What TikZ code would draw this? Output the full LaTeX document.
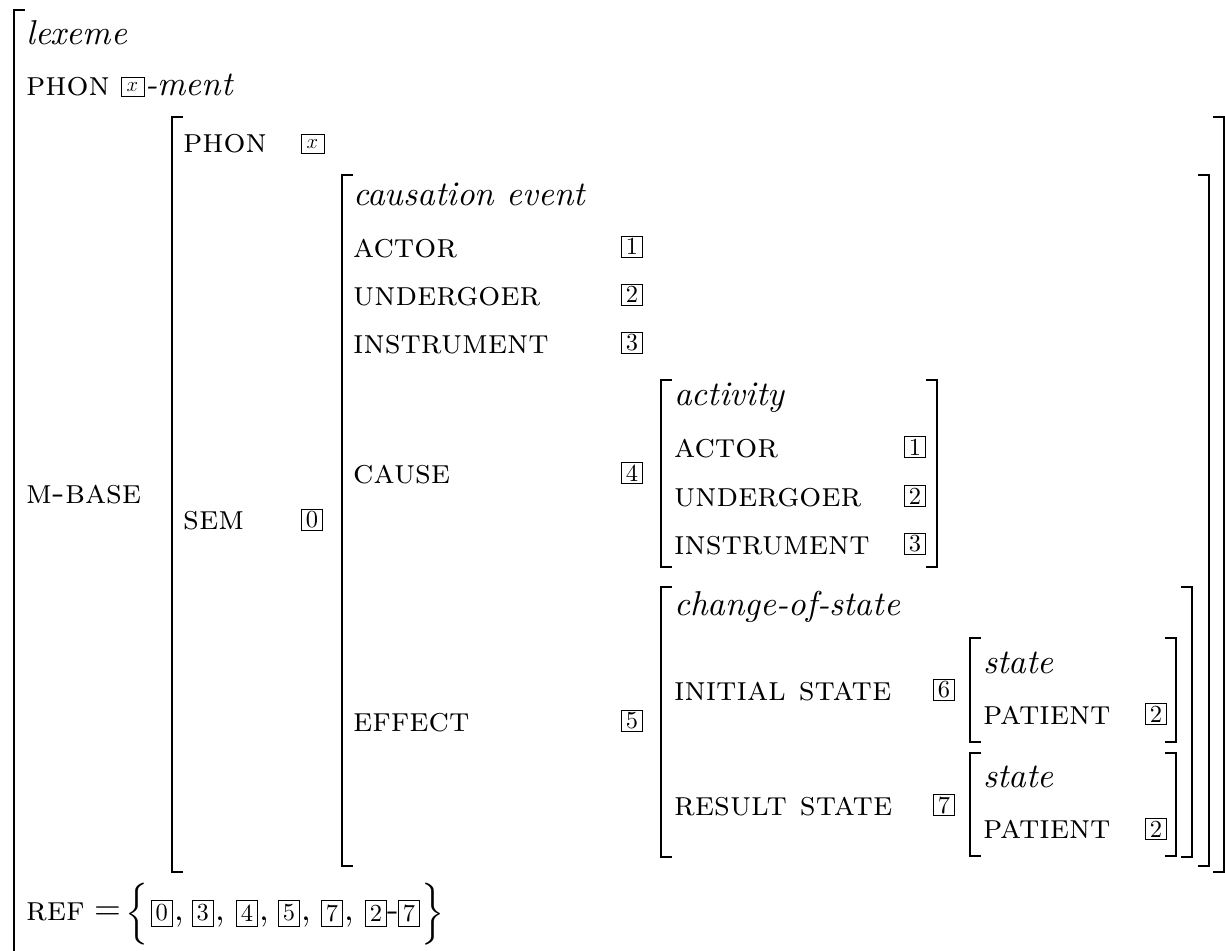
\documentclass[tikz,border=0pt]{standalone}
\usepackage{graphicx}
\font\rmL="[lmroman10-regular]:+tlig;" at 34.5pt
\font\scL="[lmromancaps10-regular]:+tlig;" at 34.5pt
\font\itL="[lmroman10-italic]:+tlig;" at 34.5pt
\font\tagF="[lmroman10-regular]:+tlig;" at 24.5pt
\tikzset{
  brk/.style={line width=2.6pt, line join=miter},
  lbl/.style={anchor=base west, inner sep=0pt, font=\scL},
  typ/.style={anchor=base west, inner sep=0pt, font=\itL},
  tag/.style={draw, line width=0.9pt, minimum width=20.5pt, minimum height=21pt, inner sep=0pt, font=\tagF},
  reftag/.style={tag, minimum height=26pt},
  xtag/.style={draw, line width=0.9pt, minimum width=23pt, minimum height=19pt, inner sep=0pt, font=\fontsize{20.74}{22}\selectfont},
  plain/.style={inner sep=0pt, font=\rmL},
}
\newcommand\LBr[3]{\draw[brk] (#1+11,#2) -- (#1,#2) -- (#1,#3) -- (#1+11,#3);}
\newcommand\RBr[3]{\draw[brk] (#1-11,#2) -- (#1,#2) -- (#1,#3) -- (#1-11,#3);}
\begin{document}
\begin{tikzpicture}[x=1pt,y=-1pt]
\useasboundingbox (0,0) rectangle (1225,950);
% brackets
\draw[brk] (25,10) -- (14,10) -- (14,960);
\LBr{172}{117}{872}
\RBr{1224}{117}{872}
\LBr{342}{175}{866}
\RBr{1209}{175}{866}
\LBr{661}{380}{567}
\RBr{937}{380}{567}
\LBr{661}{587}{857}
\RBr{1192}{587}{857}
\LBr{970}{638}{742}
\RBr{1176}{638}{742}
\LBr{970}{753}{856}
\RBr{1176}{753}{856}
% top level
\node[typ] (lexeme) at (26,45) {lexeme};
\node[lbl] (phon1) at (26,95) {phon};
\node[xtag] (xt1) at (132.5,87) {$x$};
\node[typ, anchor=base west] (ment) at (145,95) {-ment};
\node[lbl] (mbase) at (26,503) {m-base};
% m-base value
\node[lbl] (phon2) at (183,152) {phon};
\node[xtag] (xt2) at (312.5,144) {$x$};
\node[lbl] (sem) at (183,529) {sem};
\node[tag] (t0) at (312,519.5) {0};
% causation event
\node[typ] (caus) at (353,205) {causation event};
\node[lbl] (actor1) at (353,257) {actor};
\node[tag] (t1a) at (632,246.5) {1};
\node[lbl] (und1) at (353,305) {undergoer};
\node[tag] (t2a) at (632,294.5) {2};
\node[lbl] (ins1) at (353,353) {instrument};
\node[tag] (t3a) at (632,342.5) {3};
\node[lbl] (cause) at (353,483) {cause};
\node[tag] (t4) at (632,473) {4};
\node[lbl] (effect) at (353,731) {effect};
\node[tag] (t5) at (632,721) {5};
% activity
\node[typ] (act) at (674,405) {activity};
\node[lbl] (actor2) at (674,457) {actor};
\node[tag] (t1b) at (915,447) {1};
\node[lbl] (und2) at (674,506) {undergoer};
\node[tag] (t2b) at (915,496) {2};
\node[lbl] (ins2) at (674,554) {instrument};
\node[tag] (t3b) at (915,544) {3};
% change of state
\node[typ] (cos) at (674,615) {change-of-state};
\node[lbl] (init) at (674,700) {initial state};
\node[tag] (t6) at (944,690) {6};
\node[typ] (st1) at (983,673) {state};
\node[lbl] (pat1) at (983,724) {patient};
\node[tag] (t2c) at (1156,714) {2};
\node[lbl] (res) at (674,815) {result state};
\node[tag] (t7) at (944,805) {7};
\node[typ] (st2) at (983,787) {state};
\node[lbl] (pat2) at (983,838) {patient};
\node[tag] (t2d) at (1156,829) {2};
% REF
\node[lbl] (ref) at (26,920) {ref};
\node[plain] (eq) at (107.5,913) {=};
\node[plain] (lbr) at (137,914) {\resizebox*{!}{62pt}{$\Big\{$}};
\node[reftag] (r0) at (161.7,913) {0};
\node[plain, anchor=base west] (c1) at (174,920) {,};
\node[reftag] (r3) at (202.7,913) {3};
\node[plain, anchor=base west] (c2) at (215,920) {,};
\node[reftag] (r4) at (247,913) {4};
\node[plain, anchor=base west] (c3) at (259,920) {,};
\node[reftag] (r5) at (289,913) {5};
\node[plain, anchor=base west] (c4) at (301,920) {,};
\node[reftag] (r7) at (332,913) {7};
\node[plain, anchor=base west] (c5) at (344,920) {,};
\node[reftag] (r2) at (376,913) {2};
\node[plain, anchor=base west] (dash) at (387.5,920) {-};
\node[reftag] (r7b) at (409,913) {7};
\node[plain] (rbr) at (433,914) {\resizebox*{!}{62pt}{$\Big\}$}};
\end{tikzpicture}
\end{document}
